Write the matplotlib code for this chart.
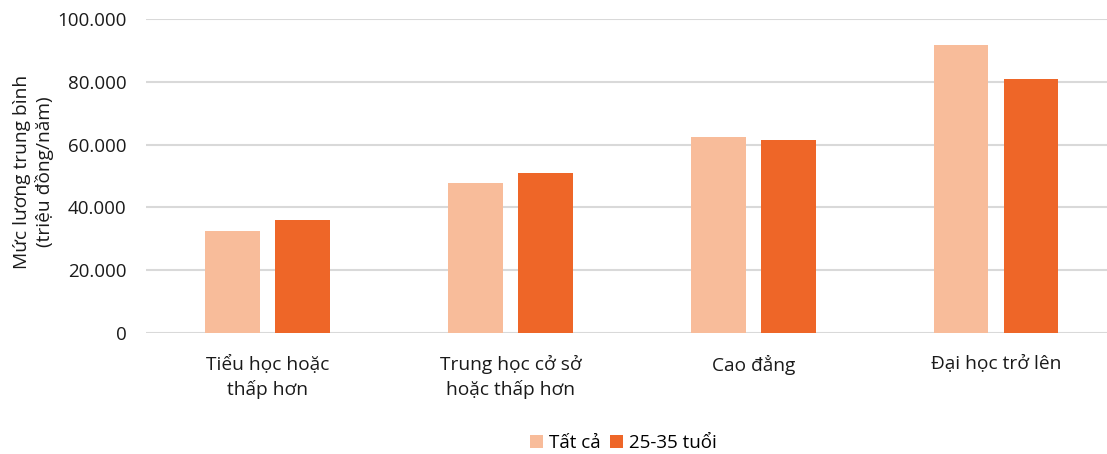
import numpy as np
import matplotlib.pyplot as plt
from matplotlib.ticker import FuncFormatter

plt.rcParams['font.family'] = ['Open Sans', 'DejaVu Sans']

# Average salary by education level (million VND / year)
categories = ['Tiểu học hoặc\nthấp hơn', 'Trung học cở sở\nhoặc thấp hơn',
              'Cao đẳng', 'Đại học trở lên']
all_ages = [32400, 47800, 62400, 91700]
age_25_35 = [36000, 51000, 61500, 80800]
series_labels = ['Tất cả', '25-35 tuổi']

light = '#F8BC9A'
dark = '#EE6628'
txt = '#1a1a1a'

fig = plt.figure(figsize=(11.07, 4.54), dpi=100)
ax = fig.add_axes([0.132, 0.2665, 0.868, 0.6915])

x = np.arange(len(categories))
w = 0.226
off = 0.144
ax.bar(x - off, all_ages, w, color=light, label=series_labels[0], zorder=3)
ax.bar(x + off, age_25_35, w, color=dark, label=series_labels[1], zorder=3)

ax.set_xlim(-0.5, 3.457)
ax.set_ylim(0, 100000)
ax.set_yticks(np.arange(0, 100001, 20000))
ax.yaxis.set_major_formatter(FuncFormatter(lambda v, p: f'{int(v):,}'.replace(',', '.')))
ax.set_xticks(x)
ax.set_xticklabels(categories, fontsize=13.8, color=txt, linespacing=1.38)
ax.tick_params(axis='y', length=0, pad=14, labelsize=13.5, labelcolor=txt)
ax.tick_params(axis='x', length=0, pad=16)

ax.grid(axis='y', color='#d9d9d9', linewidth=1.5, zorder=0)
for s in ax.spines.values():
    s.set_visible(False)

fig.text(0.03, 0.621, 'Mức lương trung bình\n(triệu đồng/năm)', rotation=90,
         ha='center', va='center', fontsize=13.8, color=txt, linespacing=1.25)

fig.legend(loc='center', bbox_to_anchor=(0.563, 0.024), ncol=2, frameon=False,
           fontsize=13.5, handlelength=0.7, handleheight=0.7,
           handletextpad=0.3, columnspacing=0.5)

fig.savefig('out.png', dpi=100)
